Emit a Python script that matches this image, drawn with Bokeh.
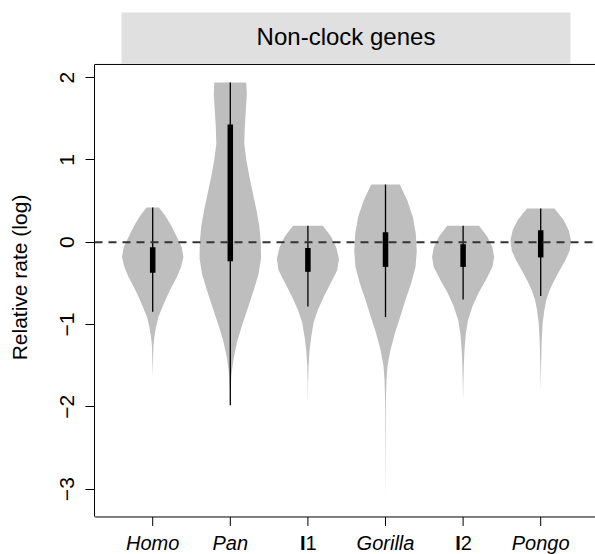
import numpy as np
from bokeh.plotting import figure
from bokeh.models import FixedTicker, Span, Label, ColumnDataSource
from bokeh.core.properties import value
from bokeh.embed import file_html
from bokeh.resources import INLINE

# ---------------- data ----------------
categories = ["Homo", "Pan", "I1", "Gorilla", "I2", "Pongo"]
italic_labels = ["Homo", "Pan", "Gorilla", "Pongo"]
panel_title = "Non-clock genes"
y_title = "Relative rate (log)"
y_ticks = [-3, -2, -1, 0, 1, 2]

# density profiles: log relative rate levels and half-width of the violin (x units)
homo_y = [0.42, 0.31, 0.19, 0.06, -0.06, -0.18, -0.30, -0.42, -0.54, -0.66, -0.78, -0.91, -1.03, -1.15, -1.27, -1.45, -1.64]
homo_w = [0.080, 0.171, 0.245, 0.313, 0.374, 0.396, 0.365, 0.313, 0.245, 0.184, 0.129, 0.073, 0.043, 0.022, 0.009, 0.004, 0.0]

pan_y = [1.94, 1.80, 1.60, 1.40, 1.20, 1.00, 0.80, 0.60, 0.40, 0.20, 0.00, -0.20, -0.40, -0.60, -0.80, -1.00, -1.20, -1.40, -1.60, -1.80, -1.98]
pan_w = [0.206, 0.213, 0.200, 0.187, 0.180, 0.206, 0.245, 0.290, 0.335, 0.374, 0.393, 0.396, 0.361, 0.296, 0.226, 0.155, 0.090, 0.045, 0.015, 0.005, 0.0]

i1_y = [0.20, 0.065, -0.06, -0.20, -0.34, -0.50, -0.66, -0.82, -0.98, -1.15, -1.31, -1.50, -1.70, -1.94]
i1_w = [0.193, 0.300, 0.365, 0.400, 0.378, 0.293, 0.206, 0.129, 0.073, 0.043, 0.022, 0.008, 0.003, 0.0]

gorilla_y = [0.70, 0.51, 0.31, 0.105, -0.10, -0.30, -0.50, -0.70, -0.91, -1.11, -1.31, -1.50, -1.67, -1.92, -2.50, -3.13]
gorilla_w = [0.184, 0.280, 0.352, 0.390, 0.403, 0.387, 0.331, 0.258, 0.189, 0.120, 0.064, 0.026, 0.013, 0.005, 0.0025, 0.0]

i2_y = [0.20, 0.065, -0.06, -0.18, -0.30, -0.46, -0.62, -0.78, -0.945, -1.11, -1.31, -1.50, -1.70, -1.92]
i2_w = [0.206, 0.313, 0.378, 0.400, 0.378, 0.293, 0.197, 0.120, 0.064, 0.035, 0.018, 0.009, 0.004, 0.0]

pongo_y = [0.41, 0.27, 0.145, 0.024, -0.10, -0.22, -0.34, -0.46, -0.58, -0.70, -0.82, -0.98, -1.20, -1.50, -1.80]
pongo_w = [0.177, 0.296, 0.361, 0.390, 0.374, 0.318, 0.245, 0.177, 0.116, 0.073, 0.048, 0.026, 0.013, 0.005, 0.0]

# box statistics (log relative rate)
q1 = [-0.37, -0.23, -0.36, -0.30, -0.30, -0.185]
q3 = [-0.06, 1.43, -0.07, 0.12, -0.025, 0.145]
whisker_lo = [-0.845, -1.98, -0.78, -0.91, -0.695, -0.655]
whisker_hi = [0.42, 1.94, 0.20, 0.70, 0.20, 0.41]

profiles_y = [homo_y, pan_y, i1_y, gorilla_y, i2_y, pongo_y]
profiles_w = [homo_w, pan_w, i1_w, gorilla_w, i2_w, pongo_w]

# ---------------- layout ----------------
FONT = "Liberation Sans"
W, H = 595, 554
LEFT = 94
PX_PER_X = 77.6
PX_PER_Y = 82.32
X_START = 0.25
X_END = X_START + (W - LEFT) / PX_PER_X
Y_END = 2.936
Y_START = Y_END - H / PX_PER_Y
AXIS_Y = -3.338            # bottom axis line
FRAME_TOP = 2.159          # top border line of the panel
TICK_LEN = 9 / PX_PER_Y
LABEL_Y = -3.652           # vertical centre of category labels
STRIP_X0, STRIP_X1 = 0.598, 6.384
STRIP_Y0, STRIP_Y1 = 2.17, 2.79
STRIP_TEXT_Y = 2.499

p = figure(width=W, height=H, x_range=(X_START, X_END), y_range=(Y_START, Y_END),
           output_backend="svg", toolbar_location=None, x_axis_location=None,
           min_border_left=LEFT, min_border_right=0, min_border_top=0, min_border_bottom=0)
p.outline_line_color = None
p.grid.grid_line_color = None
p.background_fill_color = "white"
p.border_fill_color = "white"

# strip header
p.quad(left=[STRIP_X0], right=[STRIP_X1], bottom=[STRIP_Y0], top=[STRIP_Y1],
       fill_color="#e0e0e0", line_color=None)
p.add_layout(Label(x=(STRIP_X0 + STRIP_X1) / 2, y=STRIP_TEXT_Y, text=panel_title,
                   text_align="center", text_baseline="middle",
                   text_font=FONT, text_font_size="24px", text_color="black"))
p.add_layout(Span(location=FRAME_TOP, dimension="width", line_color="black", line_width=1))

# violins
xs, ys = [], []
for i, (vy, vw) in enumerate(zip(profiles_y, profiles_w)):
    pos = i + 1
    vy = np.array(vy)
    vw = np.array(vw)
    xs.append(list(pos + vw) + list((pos - vw)[::-1]))
    ys.append(list(vy) + list(vy[::-1]))
p.patches(xs=xs, ys=ys, fill_color="#bebebe", line_color=None)

pos_list = list(range(1, len(categories) + 1))
p.segment(x0=pos_list, y0=whisker_lo, x1=pos_list, y1=whisker_hi,
          line_color="black", line_width=1.3)
p.segment(x0=pos_list, y0=q1, x1=pos_list, y1=q3,
          line_color="black", line_width=5.5, line_cap="butt")

p.add_layout(Span(location=0, dimension="width", line_color="#333333",
                  line_width=2, line_dash="8 6"))

# y axis
p.yaxis.ticker = FixedTicker(ticks=y_ticks)
p.yaxis.bounds = (AXIS_Y, FRAME_TOP)
p.yaxis.major_label_orientation = "vertical"
p.yaxis.major_label_text_font = FONT
p.yaxis.major_label_text_font_size = "21px"
p.yaxis.major_label_text_color = "black"
p.yaxis.major_label_standoff = 11
p.yaxis.major_tick_out = 9
p.yaxis.major_tick_in = 0
p.yaxis.minor_tick_out = 0
p.yaxis.minor_tick_in = 0
p.yaxis.axis_line_color = "black"
p.yaxis.major_tick_line_color = "black"
p.yaxis.axis_label = y_title
p.yaxis.axis_label_text_font = FONT
p.yaxis.axis_label_text_font_size = "21px"
p.yaxis.axis_label_text_font_style = "normal"
p.yaxis.axis_label_text_color = "black"
p.yaxis.axis_label_standoff = 27

# bottom axis (line, ticks, category labels)
p.add_layout(Span(location=AXIS_Y, dimension="width", line_color="black", line_width=1))
p.segment(x0=pos_list, y0=[AXIS_Y] * len(pos_list), x1=pos_list,
          y1=[AXIS_Y - TICK_LEN] * len(pos_list), line_color="black", line_width=1)

lab_x, lab_text, lab_style, lab_align = [], [], [], []
for pos, name in zip(pos_list, categories):
    if name in italic_labels:
        lab_x.append(pos); lab_text.append(name); lab_style.append("italic"); lab_align.append("center")
    else:
        xj = pos - 2.3 / PX_PER_X
        lab_x.append(xj); lab_text.append(name[0]); lab_style.append("bold"); lab_align.append("right")
        lab_x.append(xj); lab_text.append(name[1:]); lab_style.append("normal"); lab_align.append("left")
lab_src = ColumnDataSource(dict(x=lab_x, y=[LABEL_Y] * len(lab_x), text=lab_text,
                                style=lab_style, align=lab_align))
p.text(x="x", y="y", text="text", source=lab_src, text_font=value(FONT),
       text_font_size="20px", text_font_style="style", text_align="align",
       text_baseline="middle", text_color="black")

html = file_html(p, INLINE)
open("out.html", "w").write(html)
